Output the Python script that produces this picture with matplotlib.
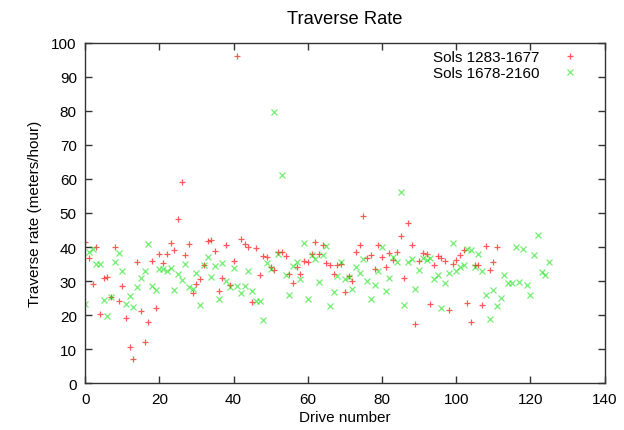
#!/usr/bin/env python
# -*- coding:utf-8 -*-

# traverse rate per drive, two sol ranges

import matplotlib
matplotlib.use('Agg')
import matplotlib.pyplot as plt

# rates in meters/hour, one value per drive, drive number = index
rate_1283_1677 = [
    41.5, 36.9, 29.3, 39.9, 20.5, 31.0, 31.3, 25.5, 40.0, 24.3,
    28.7, 19.1, 10.6, 7.1, 35.7, 21.2, 12.1, 18.0, 35.9, 22.0,
    38.1, 35.4, 38.1, 41.2, 39.0, 48.2, 59.0, 37.6, 40.8, 26.6,
    29.3, 30.7, 34.6, 41.9, 42.1, 38.8, 27.0, 30.8, 40.5, 28.9,
    35.8, 96.0, 42.3, 40.9, 40.0, 24.0, 39.6, 31.7, 37.4, 37.1,
    34.3, 33.4, 38.6, 38.6, 37.5, 32.2, 29.5, 34.2, 32.1, 36.0,
    35.7, 38.0, 41.5, 38.1, 40.6, 35.3, 34.7, 32.0, 34.8, 35.1,
    26.8, 31.4, 30.0, 38.6, 40.7, 49.0, 36.9, 37.7, 33.6, 40.7,
    37.2, 34.1, 38.4, 36.3, 38.7, 43.3, 30.8, 47.2, 40.7, 17.5,
    35.8, 38.4, 38.1, 23.4, 34.7, 37.5, 36.7, 36.0, 21.6, 35.0,
    36.3, 37.8, 39.0, 23.5, 18.1, 34.7, 34.7, 22.9, 40.4, 33.2,
    35.5, 40.0,
]
rate_1678_2160 = [
    23.4, 38.7, 39.4, 35.1, 35.1, 24.6, 19.8, 25.4, 35.6, 38.3,
    33.1, 23.3, 25.6, 22.3, 28.3, 30.9, 33.1, 41.0, 28.6, 27.5,
    33.6, 33.6, 32.9, 34.0, 27.4, 32.0, 30.3, 35.1, 28.3, 27.7,
    32.4, 23.1, 34.7, 37.1, 31.1, 34.5, 24.9, 35.2, 30.0, 28.3,
    33.8, 28.7, 26.6, 28.7, 33.0, 27.1, 24.3, 24.2, 18.7, 35.3,
    33.6, 79.7, 38.1, 61.1, 31.7, 26.0, 34.5, 35.6, 30.7, 41.2,
    24.8, 37.7, 36.6, 29.7, 37.8, 40.2, 22.7, 26.9, 31.4, 35.7,
    30.6, 31.3, 27.6, 34.2, 32.4, 36.5, 30.1, 24.9, 29.0, 33.1,
    40.0, 27.2, 31.0, 37.1, 35.7, 56.3, 22.9, 35.5, 36.6, 27.8,
    33.3, 36.9, 36.1, 36.7, 30.5, 31.7, 22.0, 29.6, 32.3, 41.2,
    33.1, 34.1, 34.7, 39.4, 39.2, 34.2, 38.0, 32.9, 26.0, 18.8,
    27.3, 22.7, 25.1, 31.7, 29.6, 29.4, 39.9, 29.7, 39.4, 29.0,
    26.0, 37.6, 43.4, 32.6, 31.7, 35.5,
]
labels = ['Sols 1283-1677', 'Sols 1678-2160']

plt.rcParams['font.family'] = ['Liberation Sans', 'DejaVu Sans']
plt.rcParams['font.size'] = 11

fig = plt.figure(figsize=(6.24, 4.31), dpi=100)
ax = fig.add_axes([0.1365, 0.108, 0.8325, 0.791])

ax.plot(range(len(rate_1283_1677)), rate_1283_1677, linestyle='none',
        marker='+', markersize=5, markeredgewidth=0.9,
        color='#ff0000', alpha=0.65, label=labels[0])
ax.plot(range(len(rate_1678_2160)), rate_1678_2160, linestyle='none',
        marker='x', markersize=4.2, markeredgewidth=0.9,
        color='#00e000', alpha=0.55, label=labels[1])

ax.set_xlim(0, 140)
ax.set_ylim(0, 100)
ax.set_xticks(range(0, 141, 20))
ax.set_yticks(range(0, 101, 10))
ax.tick_params(direction='in', length=5, width=1, top=True, right=True,
               colors='#333333', labelcolor='black', pad=6)
for s in ax.spines.values():
    s.set_color('#333333')
    s.set_linewidth(1)

ax.set_title('Traverse Rate', pad=14)
ax.set_xlabel('Drive number', labelpad=3)
ax.set_ylabel('Traverse rate (meters/hour)', labelpad=7)

leg = ax.legend(loc='upper right', bbox_to_anchor=(0.9605, 0.995),
                markerfirst=False, frameon=False,
                handletextpad=1.5, handlelength=1.0, borderaxespad=0.0,
                labelspacing=0.1)

plt.savefig('out.png', dpi=100)
